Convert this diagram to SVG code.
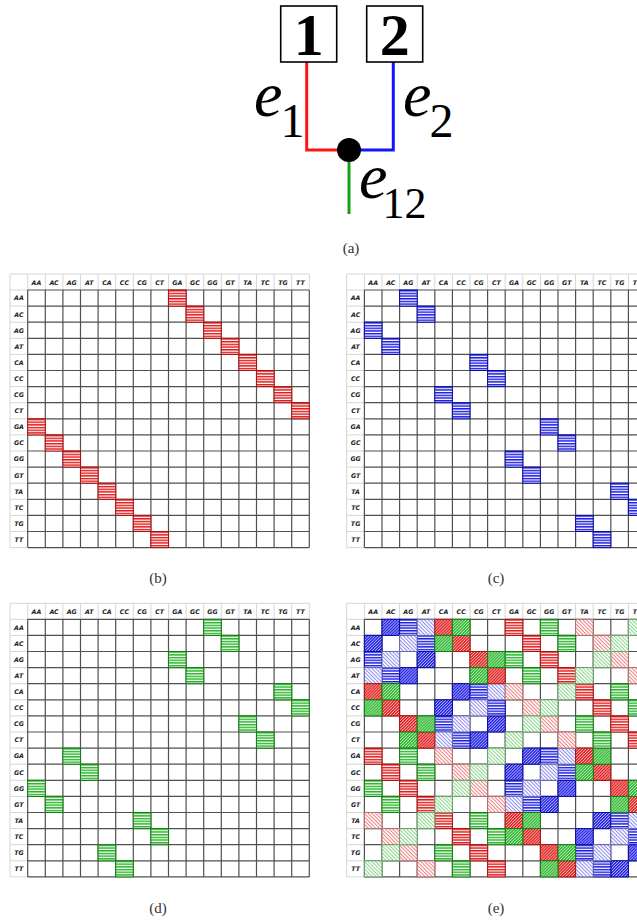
<svg xmlns="http://www.w3.org/2000/svg" xmlns:xlink="http://www.w3.org/1999/xlink" width="637" height="922" viewBox="0 0 637 922">
<style>
.lbl{font-family:"DejaVu Sans",sans-serif;font-weight:bold;font-style:italic;font-size:6.3px;fill:#1a1a1a;text-anchor:middle}
.cap{font-family:"Liberation Serif",serif;font-size:15px;fill:#333;text-anchor:middle}
.num{font-family:"Liberation Serif",serif;font-weight:bold;font-size:60px;fill:#000;text-anchor:middle}
.ev{font-family:"Liberation Serif",serif;font-size:64px;fill:#000}
.box{fill:#fff;stroke:#000;stroke-width:1.6}
.edge{fill:none;stroke-width:3}
.gl{fill:none;stroke:#505050;stroke-width:1.2}
.hl{fill:none;stroke:#d6d6d6;stroke-width:1}
</style>
<defs>
<pattern id="rs" width="17.6" height="2.68333" patternUnits="userSpaceOnUse"><rect width="17.6" height="2.68333" fill="#fff"/><rect width="17.6" height="1.45" fill="#e21818"/></pattern>
<pattern id="bs" width="17.6" height="2.68333" patternUnits="userSpaceOnUse"><rect width="17.6" height="2.68333" fill="#fff"/><rect width="17.6" height="1.45" fill="#1a1ae6"/></pattern>
<pattern id="gs" width="17.6" height="2.68333" patternUnits="userSpaceOnUse"><rect width="17.6" height="2.68333" fill="#fff"/><rect width="17.6" height="1.45" fill="#28b428"/></pattern>
<pattern id="rd" width="2.1" height="2.1" patternUnits="userSpaceOnUse" patternTransform="rotate(-45)"><rect width="2.1" height="2.1" fill="#f6b0b0"/><rect width="2.1" height="1.2" fill="#e01818"/></pattern>
<pattern id="bd" width="2.1" height="2.1" patternUnits="userSpaceOnUse" patternTransform="rotate(-45)"><rect width="2.1" height="2.1" fill="#b0b0f8"/><rect width="2.1" height="1.2" fill="#1a1ae6"/></pattern>
<pattern id="gd" width="2.1" height="2.1" patternUnits="userSpaceOnUse" patternTransform="rotate(-45)"><rect width="2.1" height="2.1" fill="#b8e8b8"/><rect width="2.1" height="1.2" fill="#28b428"/></pattern>
<pattern id="rl" width="2.6" height="2.6" patternUnits="userSpaceOnUse" patternTransform="rotate(45)"><rect width="2.6" height="2.6" fill="#fff"/><rect width="2.6" height="1" fill="#ee7f7f"/></pattern>
<pattern id="bl" width="2.6" height="2.6" patternUnits="userSpaceOnUse" patternTransform="rotate(45)"><rect width="2.6" height="2.6" fill="#fff"/><rect width="2.6" height="1" fill="#8a8af2"/></pattern>
<pattern id="gl" width="2.6" height="2.6" patternUnits="userSpaceOnUse" patternTransform="rotate(45)"><rect width="2.6" height="2.6" fill="#fff"/><rect width="2.6" height="1" fill="#88d488"/></pattern>
<rect id="c" width="17.6" height="16.1"/>
<g id="p1"><use xlink:href="#c" x="17.6" y="0"/><use xlink:href="#c" x="0" y="16.1"/><use xlink:href="#c" x="52.8" y="32.2"/><use xlink:href="#c" x="35.2" y="48.3"/><use xlink:href="#c" x="88" y="64.4"/><use xlink:href="#c" x="70.4" y="80.5"/><use xlink:href="#c" x="123.2" y="96.6"/><use xlink:href="#c" x="105.6" y="112.7"/><use xlink:href="#c" x="158.4" y="128.8"/><use xlink:href="#c" x="140.8" y="144.9"/><use xlink:href="#c" x="193.6" y="161"/><use xlink:href="#c" x="176" y="177.1"/><use xlink:href="#c" x="228.8" y="193.2"/><use xlink:href="#c" x="211.2" y="209.3"/><use xlink:href="#c" x="264" y="225.4"/><use xlink:href="#c" x="246.4" y="241.5"/></g>
<g id="p2"><use xlink:href="#c" x="35.2" y="0"/><use xlink:href="#c" x="52.8" y="16.1"/><use xlink:href="#c" x="0" y="32.2"/><use xlink:href="#c" x="17.6" y="48.3"/><use xlink:href="#c" x="105.6" y="64.4"/><use xlink:href="#c" x="123.2" y="80.5"/><use xlink:href="#c" x="70.4" y="96.6"/><use xlink:href="#c" x="88" y="112.7"/><use xlink:href="#c" x="176" y="128.8"/><use xlink:href="#c" x="193.6" y="144.9"/><use xlink:href="#c" x="140.8" y="161"/><use xlink:href="#c" x="158.4" y="177.1"/><use xlink:href="#c" x="246.4" y="193.2"/><use xlink:href="#c" x="264" y="209.3"/><use xlink:href="#c" x="211.2" y="225.4"/><use xlink:href="#c" x="228.8" y="241.5"/></g>
<g id="p3"><use xlink:href="#c" x="52.8" y="0"/><use xlink:href="#c" x="35.2" y="16.1"/><use xlink:href="#c" x="17.6" y="32.2"/><use xlink:href="#c" x="0" y="48.3"/><use xlink:href="#c" x="123.2" y="64.4"/><use xlink:href="#c" x="105.6" y="80.5"/><use xlink:href="#c" x="88" y="96.6"/><use xlink:href="#c" x="70.4" y="112.7"/><use xlink:href="#c" x="193.6" y="128.8"/><use xlink:href="#c" x="176" y="144.9"/><use xlink:href="#c" x="158.4" y="161"/><use xlink:href="#c" x="140.8" y="177.1"/><use xlink:href="#c" x="264" y="193.2"/><use xlink:href="#c" x="246.4" y="209.3"/><use xlink:href="#c" x="228.8" y="225.4"/><use xlink:href="#c" x="211.2" y="241.5"/></g>
<g id="p4"><use xlink:href="#c" x="70.4" y="0"/><use xlink:href="#c" x="88" y="16.1"/><use xlink:href="#c" x="105.6" y="32.2"/><use xlink:href="#c" x="123.2" y="48.3"/><use xlink:href="#c" x="0" y="64.4"/><use xlink:href="#c" x="17.6" y="80.5"/><use xlink:href="#c" x="35.2" y="96.6"/><use xlink:href="#c" x="52.8" y="112.7"/><use xlink:href="#c" x="211.2" y="128.8"/><use xlink:href="#c" x="228.8" y="144.9"/><use xlink:href="#c" x="246.4" y="161"/><use xlink:href="#c" x="264" y="177.1"/><use xlink:href="#c" x="140.8" y="193.2"/><use xlink:href="#c" x="158.4" y="209.3"/><use xlink:href="#c" x="176" y="225.4"/><use xlink:href="#c" x="193.6" y="241.5"/></g>
<g id="p8"><use xlink:href="#c" x="140.8" y="0"/><use xlink:href="#c" x="158.4" y="16.1"/><use xlink:href="#c" x="176" y="32.2"/><use xlink:href="#c" x="193.6" y="48.3"/><use xlink:href="#c" x="211.2" y="64.4"/><use xlink:href="#c" x="228.8" y="80.5"/><use xlink:href="#c" x="246.4" y="96.6"/><use xlink:href="#c" x="264" y="112.7"/><use xlink:href="#c" x="0" y="128.8"/><use xlink:href="#c" x="17.6" y="144.9"/><use xlink:href="#c" x="35.2" y="161"/><use xlink:href="#c" x="52.8" y="177.1"/><use xlink:href="#c" x="70.4" y="193.2"/><use xlink:href="#c" x="88" y="209.3"/><use xlink:href="#c" x="105.6" y="225.4"/><use xlink:href="#c" x="123.2" y="241.5"/></g>
<g id="p12"><use xlink:href="#c" x="211.2" y="0"/><use xlink:href="#c" x="228.8" y="16.1"/><use xlink:href="#c" x="246.4" y="32.2"/><use xlink:href="#c" x="264" y="48.3"/><use xlink:href="#c" x="140.8" y="64.4"/><use xlink:href="#c" x="158.4" y="80.5"/><use xlink:href="#c" x="176" y="96.6"/><use xlink:href="#c" x="193.6" y="112.7"/><use xlink:href="#c" x="70.4" y="128.8"/><use xlink:href="#c" x="88" y="144.9"/><use xlink:href="#c" x="105.6" y="161"/><use xlink:href="#c" x="123.2" y="177.1"/><use xlink:href="#c" x="0" y="193.2"/><use xlink:href="#c" x="17.6" y="209.3"/><use xlink:href="#c" x="35.2" y="225.4"/><use xlink:href="#c" x="52.8" y="241.5"/></g>
<g id="p5"><use xlink:href="#c" x="88" y="0"/><use xlink:href="#c" x="70.4" y="16.1"/><use xlink:href="#c" x="123.2" y="32.2"/><use xlink:href="#c" x="105.6" y="48.3"/><use xlink:href="#c" x="17.6" y="64.4"/><use xlink:href="#c" x="0" y="80.5"/><use xlink:href="#c" x="52.8" y="96.6"/><use xlink:href="#c" x="35.2" y="112.7"/><use xlink:href="#c" x="228.8" y="128.8"/><use xlink:href="#c" x="211.2" y="144.9"/><use xlink:href="#c" x="264" y="161"/><use xlink:href="#c" x="246.4" y="177.1"/><use xlink:href="#c" x="158.4" y="193.2"/><use xlink:href="#c" x="140.8" y="209.3"/><use xlink:href="#c" x="193.6" y="225.4"/><use xlink:href="#c" x="176" y="241.5"/></g>
<g id="p10"><use xlink:href="#c" x="176" y="0"/><use xlink:href="#c" x="193.6" y="16.1"/><use xlink:href="#c" x="140.8" y="32.2"/><use xlink:href="#c" x="158.4" y="48.3"/><use xlink:href="#c" x="246.4" y="64.4"/><use xlink:href="#c" x="264" y="80.5"/><use xlink:href="#c" x="211.2" y="96.6"/><use xlink:href="#c" x="228.8" y="112.7"/><use xlink:href="#c" x="35.2" y="128.8"/><use xlink:href="#c" x="52.8" y="144.9"/><use xlink:href="#c" x="0" y="161"/><use xlink:href="#c" x="17.6" y="177.1"/><use xlink:href="#c" x="105.6" y="193.2"/><use xlink:href="#c" x="123.2" y="209.3"/><use xlink:href="#c" x="70.4" y="225.4"/><use xlink:href="#c" x="88" y="241.5"/></g>
<g id="p15"><use xlink:href="#c" x="264" y="0"/><use xlink:href="#c" x="246.4" y="16.1"/><use xlink:href="#c" x="228.8" y="32.2"/><use xlink:href="#c" x="211.2" y="48.3"/><use xlink:href="#c" x="193.6" y="64.4"/><use xlink:href="#c" x="176" y="80.5"/><use xlink:href="#c" x="158.4" y="96.6"/><use xlink:href="#c" x="140.8" y="112.7"/><use xlink:href="#c" x="123.2" y="128.8"/><use xlink:href="#c" x="105.6" y="144.9"/><use xlink:href="#c" x="88" y="161"/><use xlink:href="#c" x="70.4" y="177.1"/><use xlink:href="#c" x="52.8" y="193.2"/><use xlink:href="#c" x="35.2" y="209.3"/><use xlink:href="#c" x="17.6" y="225.4"/><use xlink:href="#c" x="0" y="241.5"/></g>
<g id="tbl">
<path class="hl" d="M-17.7 -16H281.6M-17.7 -16V257.6M0 -16V0M17.6 -16V0M35.2 -16V0M52.8 -16V0M70.4 -16V0M88 -16V0M105.6 -16V0M123.2 -16V0M140.8 -16V0M158.4 -16V0M176 -16V0M193.6 -16V0M211.2 -16V0M228.8 -16V0M246.4 -16V0M264 -16V0M281.6 -16V0M-17.7 0H0M-17.7 16.1H0M-17.7 32.2H0M-17.7 48.3H0M-17.7 64.4H0M-17.7 80.5H0M-17.7 96.6H0M-17.7 112.7H0M-17.7 128.8H0M-17.7 144.9H0M-17.7 161H0M-17.7 177.1H0M-17.7 193.2H0M-17.7 209.3H0M-17.7 225.4H0M-17.7 241.5H0M-17.7 257.6H0"/>
<path class="gl" d="M0 0V257.6M17.6 0V257.6M35.2 0V257.6M52.8 0V257.6M70.4 0V257.6M88 0V257.6M105.6 0V257.6M123.2 0V257.6M140.8 0V257.6M158.4 0V257.6M176 0V257.6M193.6 0V257.6M211.2 0V257.6M228.8 0V257.6M246.4 0V257.6M264 0V257.6M281.6 0V257.6M0 0H281.6M0 16.1H281.6M0 32.2H281.6M0 48.3H281.6M0 64.4H281.6M0 80.5H281.6M0 96.6H281.6M0 112.7H281.6M0 128.8H281.6M0 144.9H281.6M0 161H281.6M0 177.1H281.6M0 193.2H281.6M0 209.3H281.6M0 225.4H281.6M0 241.5H281.6M0 257.6H281.6"/>
<text class="lbl" y="-5.2"><tspan x="8.8">AA</tspan><tspan x="26.4">AC</tspan><tspan x="44">AG</tspan><tspan x="61.6">AT</tspan><tspan x="79.2">CA</tspan><tspan x="96.8">CC</tspan><tspan x="114.4">CG</tspan><tspan x="132">CT</tspan><tspan x="149.6">GA</tspan><tspan x="167.2">GC</tspan><tspan x="184.8">GG</tspan><tspan x="202.4">GT</tspan><tspan x="220">TA</tspan><tspan x="237.6">TC</tspan><tspan x="255.2">TG</tspan><tspan x="272.8">TT</tspan></text>
<text class="lbl" x="-8.8"><tspan x="-8.8" y="10.4">AA</tspan><tspan x="-8.8" y="26.5">AC</tspan><tspan x="-8.8" y="42.6">AG</tspan><tspan x="-8.8" y="58.7">AT</tspan><tspan x="-8.8" y="74.8">CA</tspan><tspan x="-8.8" y="90.9">CC</tspan><tspan x="-8.8" y="107">CG</tspan><tspan x="-8.8" y="123.1">CT</tspan><tspan x="-8.8" y="139.2">GA</tspan><tspan x="-8.8" y="155.3">GC</tspan><tspan x="-8.8" y="171.4">GG</tspan><tspan x="-8.8" y="187.5">GT</tspan><tspan x="-8.8" y="203.6">TA</tspan><tspan x="-8.8" y="219.7">TC</tspan><tspan x="-8.8" y="235.8">TG</tspan><tspan x="-8.8" y="251.9">TT</tspan></text>
</g>
</defs>
<rect width="637" height="922" fill="#fff"/>

<g id="tree">
<g id="connectors">
<path class="edge" d="M306.7 62V150H349" stroke="#ff1414"/>
<path class="edge" d="M393.3 62V150H349" stroke="#1414ff"/>
<path class="edge" d="M349 150V214" stroke="#18a018"/>
</g>
<g id="node1"><rect class="box" x="280.7" y="6" width="56" height="56"/><text class="num" x="308.7" y="55">1</text></g>
<g id="node2"><rect class="box" x="366.7" y="6" width="56" height="56"/><text class="num" x="394.7" y="55">2</text></g>
<g id="node12"><circle cx="349" cy="150" r="12" fill="#000"/></g>
<text class="ev" x="254" y="116"><tspan font-style="italic">e</tspan><tspan font-size="48" dx="-2" dy="21">1</tspan></text>
<text class="ev" x="403" y="116"><tspan font-style="italic">e</tspan><tspan font-size="48" dx="-2" dy="21">2</tspan></text>
<text class="ev" x="359" y="198"><tspan font-style="italic">e</tspan><tspan font-size="44" dx="-5" dy="20">12</tspan></text>
<text class="cap" x="351" y="253">(a)</text>
</g>

<g id="table-b" transform="translate(27.7,290)">
<use xlink:href="#tbl"/>
<use xlink:href="#p8" fill="url(#rs)" stroke="#b01010"/>
</g>
<text class="cap" x="158" y="583">(b)</text>

<g id="table-c" transform="translate(364.4,290)">
<use xlink:href="#tbl"/>
<use xlink:href="#p2" fill="url(#bs)" stroke="#0a0aa0"/>
</g>
<text class="cap" x="496" y="583">(c)</text>

<g id="table-d" transform="translate(27.7,619.3)">
<use xlink:href="#tbl"/>
<use xlink:href="#p10" fill="url(#gs)" stroke="#128012"/>
</g>
<text class="cap" x="158" y="913">(d)</text>

<g id="table-e" transform="translate(364.4,619.3)">
<use xlink:href="#tbl"/>
<use xlink:href="#p1" fill="url(#bd)" stroke="#0a0aa0"/>
<use xlink:href="#p2" fill="url(#bs)" stroke="#0a0aa0"/>
<use xlink:href="#p3" fill="url(#bl)" stroke="#6a6ab0"/>
<use xlink:href="#p4" fill="url(#rd)" stroke="#b01010"/>
<use xlink:href="#p8" fill="url(#rs)" stroke="#b01010"/>
<use xlink:href="#p12" fill="url(#rl)" stroke="#b07070"/>
<use xlink:href="#p5" fill="url(#gd)" stroke="#128012"/>
<use xlink:href="#p10" fill="url(#gs)" stroke="#128012"/>
<use xlink:href="#p15" fill="url(#gl)" stroke="#70a070"/>
</g>
<text class="cap" x="496" y="913">(e)</text>
</svg>
